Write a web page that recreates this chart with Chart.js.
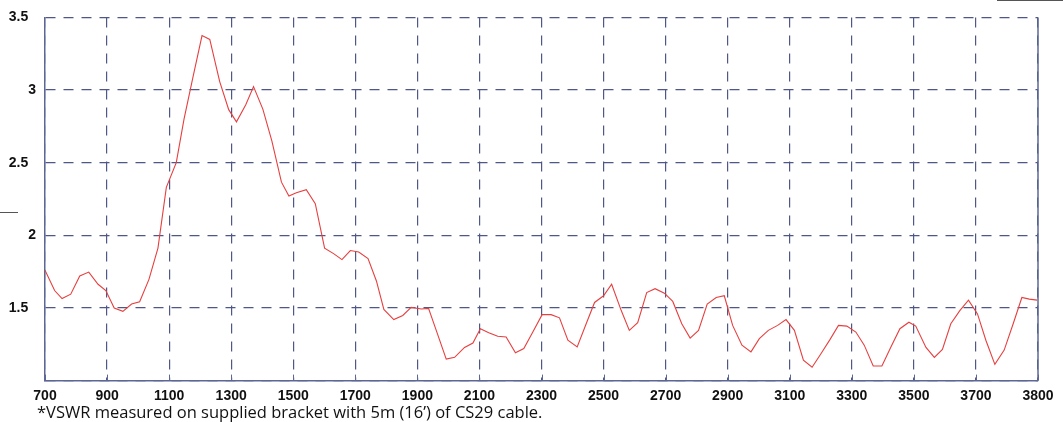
<!DOCTYPE html>
<html><head><meta charset="utf-8">
<script src="https://cdn.jsdelivr.net/npm/chart.js@4.4.1/dist/chart.umd.min.js"></script>
<style>
html,body{margin:0;padding:0;background:#fff;width:1063px;height:422px;overflow:hidden}
#wrap{position:relative;width:1063px;height:422px}
canvas{position:absolute;left:0;top:0}
#note{position:absolute;left:37px;top:401px;font:16.5px "Open Sans", Lato, sans-serif;color:#111;white-space:nowrap;line-height:21px}
.art{position:absolute;background:#555}
</style></head><body>
<div id="wrap"><canvas id="c" width="1063" height="422"></canvas>
<div id="note">*VSWR measured on supplied bracket with 5m (16’) of CS29 cable.</div>
<div class="art" style="left:997px;top:0;width:66px;height:1px"></div>
<div class="art" style="left:0;top:212px;width:18px;height:1px"></div>
</div>
<script>
// Frequency (MHz, on the chart's linear pixel scale) and VSWR
const freqMHz = [700,731,755,783,812,841,871,896,923,951,979,1005,1035,1064,1091,1123,1148,1177,1206,1231,
  1263,1292,1317,1347,1372,1402,1431,1462,1486,1510,1542,1571,1601,1630,1657,1684,1711,1741,1768,1792,
  1824,1853,1880,1913,1936,1965,1993,2020,2052,2079,2103,2130,2159,2186,2216,2243,2272,2302,2331,2358,
  2385,2415,2444,2471,2500,2526,2557,2583,2610,2639,2666,2696,2723,2752,2779,2806,2834,2863,2889,2916,
  2946,2975,3002,3031,3061,3088,3115,3144,3172,3201,3230,3257,3284,3313,3340,3369,3397,3426,3455,3484,
  3506,3539,3566,3592,3619,3648,3676,3705,3732,3761,3791,3820,3848,3872,3897];
const vswr = [1.76,1.62,1.565,1.595,1.72,1.747,1.663,1.62,1.50,1.477,1.527,1.543,1.697,1.912,2.33,2.50,2.80,3.09,3.375,3.348,
  3.058,2.865,2.781,2.899,3.024,2.869,2.65,2.366,2.271,2.293,2.314,2.218,1.912,1.874,1.833,1.895,1.885,1.84,1.686,1.49,
  1.42,1.448,1.504,1.493,1.497,1.32,1.148,1.16,1.228,1.259,1.357,1.33,1.305,1.30,1.191,1.221,1.335,1.454,1.454,1.432,
  1.278,1.232,1.391,1.538,1.584,1.663,1.482,1.346,1.398,1.606,1.633,1.602,1.545,1.391,1.293,1.346,1.527,1.572,1.584,1.38,
  1.244,1.198,1.289,1.346,1.38,1.42,1.346,1.141,1.092,1.187,1.284,1.38,1.375,1.334,1.244,1.10,1.10,1.232,1.357,1.402,
  1.375,1.228,1.16,1.214,1.391,1.482,1.554,1.459,1.278,1.112,1.21,1.391,1.572,1.561,1.554];

// Axis ticks and their printed labels (the last tick is printed "3800" in the original)
const xTickValues = [700,900,1100,1300,1500,1700,1900,2100,2300,2500,2700,2900,3100,3300,3500,3700,3900];
const xTickLabels = ['700','900','1100','1300','1500','1700','1900','2100','2300','2500','2700','2900','3100','3300','3500','3700','3800'];
const yTickValues = [1,1.5,2,2.5,3,3.5];
const yTickLabels = ['', '1.5  ', '2', '2.5  ', '3', '3.5  '];

const AXIS = '#5d6796';
const GRID = '#4e5788';

const frame = {
  id: 'frame',
  beforeDatasetsDraw(chart) {
    const {ctx, chartArea: a, scales} = chart;
    ctx.save();
    ctx.strokeStyle = AXIS;
    ctx.lineWidth = 1.5;
    ctx.beginPath();
    ctx.moveTo(a.right, a.top); ctx.lineTo(a.right, a.bottom);
    ctx.stroke();
    ctx.lineWidth = 1;
    ctx.beginPath();
    xTickValues.forEach(v => {
      const px = Math.round(scales.x.getPixelForValue(v)) + 0.5;
      ctx.moveTo(px, a.bottom); ctx.lineTo(px, a.bottom - 6);
    });
    ctx.stroke();
    ctx.restore();
  }
};

new Chart(document.getElementById('c'), {
  type: 'line',
  data: {
    datasets: [{
      data: freqMHz.map((f, i) => ({x: f, y: vswr[i]})),
      borderColor: '#e5403f',
      borderWidth: 1.1,
      pointRadius: 0,
      tension: 0,
      fill: false
    }]
  },
  options: {
    responsive: false,
    animation: false,
    devicePixelRatio: 1,
    layout: {padding: {top: 14, right: 25, left: 0, bottom: 0}},
    plugins: {legend: {display: false}, tooltip: {enabled: false}},
    scales: {
      x: {
        type: 'linear', min: 700, max: 3900,
        afterBuildTicks: s => { s.ticks = xTickValues.map(v => ({value: v})); },
        afterFit: s => { s.height = 41.4; },
        grid: {color: GRID, lineWidth: 1.2, drawTicks: false},
        border: {display: true, color: AXIS, width: 1.5, dash: [10, 8]},
        ticks: {
          color: '#111', padding: 7, maxRotation: 0, autoSkip: false,
          font: {family: '"Liberation Sans", Arial, sans-serif', size: 14, weight: 'bold'},
          callback: (v, i) => xTickLabels[i]
        }
      },
      y: {
        type: 'linear', min: 1, max: 3.5,
        afterBuildTicks: s => { s.ticks = yTickValues.map(v => ({value: v})); },
        afterFit: s => { s.width = 45; },
        grid: {color: GRID, lineWidth: 1.2, drawTicks: false},
        border: {display: true, color: AXIS, width: 1.5, dash: [10, 8]},
        ticks: {
          color: '#111', padding: 9,
          font: {family: '"Liberation Sans", Arial, sans-serif', size: 14, weight: 'bold'},
          callback: (v, i) => yTickLabels[i]
        }
      }
    }
  },
  plugins: [frame]
});
</script>
</body></html>
